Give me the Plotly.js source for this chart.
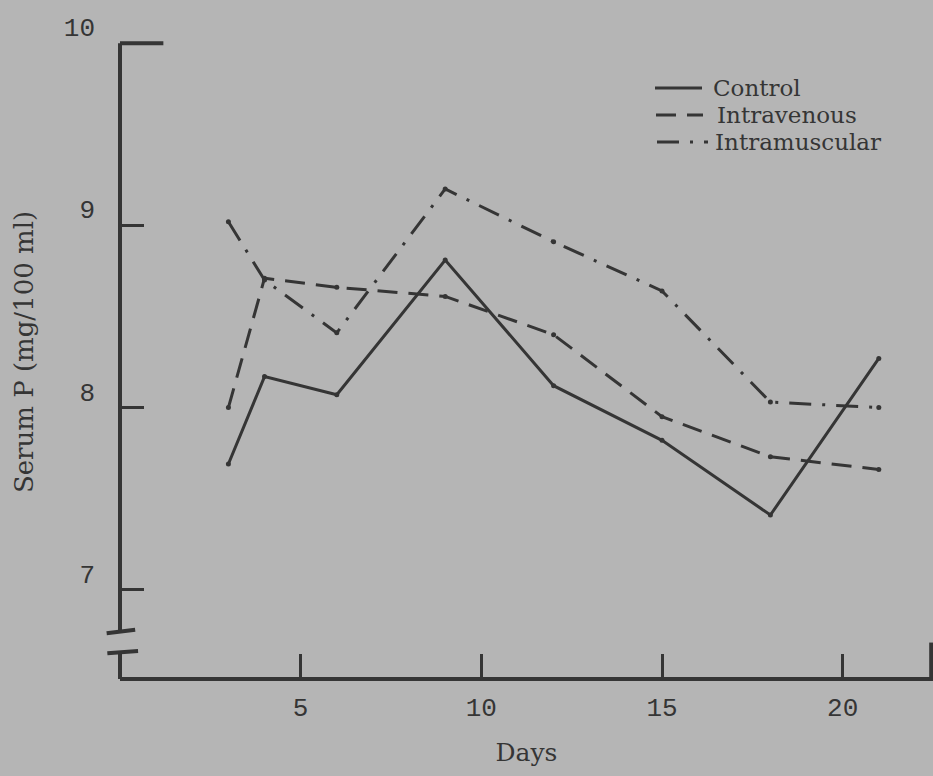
<!DOCTYPE html>
<html>
<head>
<meta charset="utf-8">
<script src="https://cdn.plot.ly/plotly-3.0.1.min.js"></script>
<style>
html,body{margin:0;padding:0;background:#b5b5b5;}
#chart{width:933px;height:776px;}
</style>
</head>
<body>
<div id="chart"></div>
<script>
// ---- data ----
const days = [3, 4, 6, 9, 12, 15, 18, 21];
const control = [7.69, 8.17, 8.07, 8.81, 8.12, 7.82, 7.41, 8.27];
const intravenous = [8.00, 8.71, 8.66, 8.61, 8.40, 7.95, 7.73, 7.66];
const intramuscular = [9.02, 8.70, 8.41, 9.20, 8.91, 8.64, 8.03, 8.00];
const seriesNames = ["Control", "Intravenous", "Intramuscular"];
const xTickVals = [5, 10, 15, 20];
const yTickVals = [7, 8, 9, 10];

// ---- styling ----
const ink = "#353535";
const bg = "#b5b5b5";
const dashes = ["solid", "20px,11px", "22px,11px,3px,11px"];
const X0 = 0, X1 = 22.5, Y0 = 6.51, Y1 = 10.1;
const xp = d => (d - X0) / (X1 - X0);
const yp = v => (v - Y0) / (Y1 - Y0);

const seriesValues = [control, intravenous, intramuscular];
const traces = seriesValues.map((vals, i) => ({
  x: days, y: vals, name: seriesNames[i], type: "scatter", mode: "lines+markers",
  line: {color: ink, width: 3, dash: dashes[i]},
  marker: {color: ink, size: 5},
  showlegend: false, cliponaxis: false
}));

const lineShape = (x0, y0, x1, y1, w, dash) => ({
  type: "line", xref: "paper", yref: "paper", x0, y0, x1, y1,
  line: {color: ink, width: w, dash: dash || "solid"}
});

const shapes = [
  // y axis with break
  lineShape(xp(0), yp(10), xp(0), yp(6.77), 4),
  lineShape(xp(0), yp(6.66), xp(0), yp(Y0), 4),
  // cap at 10
  lineShape(xp(0), yp(10), xp(1.2), yp(10), 4),
  // break marks
  lineShape(xp(-0.37), yp(6.761), xp(0.42), yp(6.78), 4),
  lineShape(xp(-0.35), yp(6.652), xp(0.5), yp(6.664), 4),
  // x axis
  lineShape(xp(0), yp(Y0), 1, yp(Y0), 4),
  // right end cap
  lineShape(xp(22.45), yp(Y0), xp(22.45), yp(Y0 + 0.2), 4)
];

// legend (lines + text), positions in pixels converted to paper
const W = 813, H = 654, L = 120, T = 25;
const px = p => (p - L) / W;
const py = p => (T + H - p) / H;
const legRows = [
  {y: 88, lx0: 655, lx1: 702, tx: 712},
  {y: 115, lx0: 656, lx1: 703, tx: 716},
  {y: 142, lx0: 657, lx1: 708, tx: 714}
];
const annotations = [];
legRows.forEach((r, i) => {
  shapes.push(lineShape(px(r.lx0), py(r.y), px(r.lx1), py(r.y), 3, dashes[i]));
  annotations.push({
    xref: "paper", yref: "paper", x: px(r.tx), y: py(r.y), xanchor: "left", yanchor: "middle",
    text: seriesNames[i], showarrow: false, borderpad: 0,
    font: {family: "DejaVu Serif", size: 23, color: ink}
  });
});

const layout = {
  width: 933, height: 776,
  paper_bgcolor: bg, plot_bgcolor: bg,
  margin: {l: L, r: 0, t: T, b: 776 - T - H},
  showlegend: false,
  xaxis: {
    range: [X0, X1], showgrid: false, zeroline: false, showline: false,
    tickvals: xTickVals, ticktext: xTickVals.map(String),
    ticks: "inside", ticklen: 25, tickwidth: 3, tickcolor: ink,
    tickfont: {family: "Liberation Mono", size: 26, color: ink},
    ticklabelstandoff: 10,
    title: {text: "Days", font: {family: "DejaVu Serif", size: 25, color: ink}, standoff: 20}
  },
  yaxis: {
    range: [Y0, Y1], showgrid: false, zeroline: false, showline: false,
    tickvals: yTickVals, ticktext: yTickVals.map(String),
    ticks: "inside", ticklen: 24, tickwidth: 3, tickcolor: ink,
    tickfont: {family: "Liberation Mono", size: 26, color: ink},
    ticklabelshift: -16, ticklabelstandoff: 24,
    title: {text: "Serum P (mg/100 ml)", font: {family: "DejaVu Serif", size: 26, color: ink}, standoff: 22}
  },
  shapes: shapes,
  annotations: annotations
};

Plotly.newPlot("chart", traces, layout, {displayModeBar: false, staticPlot: true});
</script>
</body>
</html>
